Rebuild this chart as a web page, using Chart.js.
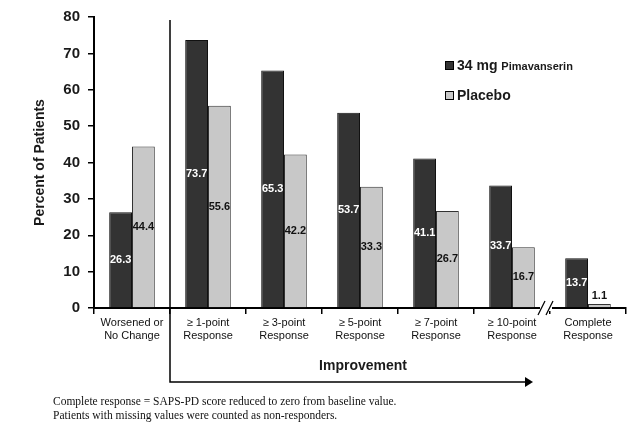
<!DOCTYPE html>
<html><head><meta charset="utf-8">
<script src="https://cdn.jsdelivr.net/npm/chart.js@4"></script>
<style>html,body{margin:0;padding:0;background:#fff}#c{display:block}</style>
</head><body>
<div style="width:636px;height:433px"><canvas id="c" width="636" height="433"></canvas></div>
<script>
const categories = [["Worsened or","No Change"],["≥ 1-point","Response"],["≥ 3-point","Response"],["≥ 5-point","Response"],["≥ 7-point","Response"],["≥ 10-point","Response"],["Complete","Response"]];
const pimavanserin = [26.3, 73.7, 65.3, 53.7, 41.1, 33.7, 13.7];
const placebo = [44.4, 55.6, 42.2, 33.3, 26.7, 16.7, 1.1];
const yTicks = [0,10,20,30,40,50,60,70,80];

const overlay = {
  id:'overlay',
  afterDatasetsDraw(chart){
    const ctx = chart.ctx, ca = chart.chartArea, x = chart.scales.x;
    ctx.save();
    chart.data.datasets.forEach((ds, di) => {
      const meta = chart.getDatasetMeta(di);
      meta.data.forEach((bar, i) => {
        const v = ds.data[i];
        ctx.font = 'bold 11px "Liberation Sans", Arial';
        ctx.textAlign = 'center'; ctx.textBaseline = 'middle';
        let ty = (bar.y + bar.base) / 2;
        if (v < 5) { ty = bar.y - 8; }
        ctx.fillStyle = di === 0 ? '#ffffff' : '#111111';
        ctx.fillText(v.toFixed(1), bar.x, ty);
      });
    });
    // axis break
    const bx = (x.getPixelForValue(5) + x.getPixelForValue(6)) / 2 - 4;
    const by = ca.bottom;
    ctx.fillStyle = '#fff';
    ctx.fillRect(bx - 6, by - 3, 12, 6);
    ctx.strokeStyle = '#000'; ctx.lineWidth = 1.2;
    [-4, 4].forEach(d => {
      ctx.beginPath(); ctx.moveTo(bx + d - 4, by + 7); ctx.lineTo(bx + d + 3, by - 7); ctx.stroke();
    });
    // improvement bracket
    const lx = (x.getPixelForValue(0) + x.getPixelForValue(1)) / 2;
    const rx = 533;
    ctx.strokeStyle = '#000'; ctx.lineWidth = 1.5;
    ctx.beginPath(); ctx.moveTo(lx, 20); ctx.lineTo(lx, 382); ctx.lineTo(rx - 6, 382); ctx.stroke();
    ctx.fillStyle = '#000';
    ctx.beginPath(); ctx.moveTo(rx, 382); ctx.lineTo(rx - 8, 377); ctx.lineTo(rx - 8, 387); ctx.closePath(); ctx.fill();
    ctx.font = 'bold 14px "Liberation Sans", Arial';
    ctx.fillStyle = '#1a1a1a'; ctx.textAlign = 'center'; ctx.textBaseline = 'middle';
    ctx.fillText('Improvement', 363, 366);
    // footnote
    ctx.font = '11.5px "Liberation Serif", "Times New Roman", serif';
    ctx.textAlign = 'left'; ctx.fillStyle = '#111';
    ctx.fillText('Complete response = SAPS-PD score reduced to zero from baseline value.', 53, 402);
    ctx.fillText('Patients with missing values were counted as non-responders.', 53, 416);
    // legend
    ctx.lineWidth = 1; ctx.strokeStyle = '#000';
    ctx.fillStyle = '#333333'; ctx.fillRect(445, 61, 8, 8); ctx.strokeRect(445.5, 61.5, 8, 8);
    ctx.fillStyle = '#c8c8c8'; ctx.fillRect(445, 91, 8, 8); ctx.strokeRect(445.5, 91.5, 8, 8);
    ctx.fillStyle = '#1a1a1a';
    ctx.font = 'bold 14px "Liberation Sans", Arial';
    ctx.fillText('34 mg', 457, 66);
    const w = ctx.measureText('34 mg ').width;
    ctx.font = 'bold 11px "Liberation Sans", Arial';
    ctx.fillText('Pimavanserin', 457 + w, 67);
    ctx.font = 'bold 14px "Liberation Sans", Arial';
    ctx.fillText('Placebo', 457, 96);
    ctx.restore();
  }
};

new Chart(document.getElementById('c'), {
  type: 'bar',
  data: {
    labels: categories,
    datasets: [
      { label: '34 mg Pimavanserin', data: pimavanserin, backgroundColor: '#333333', borderColor: '#111111', borderWidth: 1, barPercentage: 1, categoryPercentage: 0.6 },
      { label: 'Placebo', data: placebo, backgroundColor: '#c8c8c8', borderColor: '#333333', borderWidth: 1, barPercentage: 1, categoryPercentage: 0.6 }
    ]
  },
  options: {
    responsive: false, animation: false,
    layout: { padding: { top: 15, right: 10, left: 32, bottom: 0 } },
    plugins: { legend: { display: false }, tooltip: { enabled: false } },
    scales: {
      x: {
        afterFit(s){ s.height = 125; },
        grid: { drawOnChartArea: false, drawTicks: true, tickLength: 6, color: '#000', lineWidth: 1.5, offset: true },
        border: { display: true, color: '#000', width: 2 },
        ticks: { color: '#111', font: { family: '"Liberation Sans", Arial', size: 11, lineHeight: 1.2 }, maxRotation: 0, autoSkip: false, padding: 2 }
      },
      y: {
        min: 0, max: 80,
        afterFit(s){ s.width = 62; },
        afterBuildTicks(s){ s.ticks = yTicks.map(v => ({ value: v })); },
        grid: { drawOnChartArea: false, drawTicks: true, tickLength: 6, color: '#000', lineWidth: 1.5 },
        border: { display: true, color: '#000', width: 2 },
        ticks: { color: '#1a1a1a', font: { family: '"Liberation Sans", Arial', size: 15, weight: 'bold' }, padding: 8 },
        title: { display: true, text: 'Percent of Patients', color: '#1a1a1a', font: { family: '"Liberation Sans", Arial', size: 14, weight: 'bold' }, padding: { top: 0, bottom: 0 } }
      }
    }
  },
  plugins: [overlay]
});
</script>
</body></html>
